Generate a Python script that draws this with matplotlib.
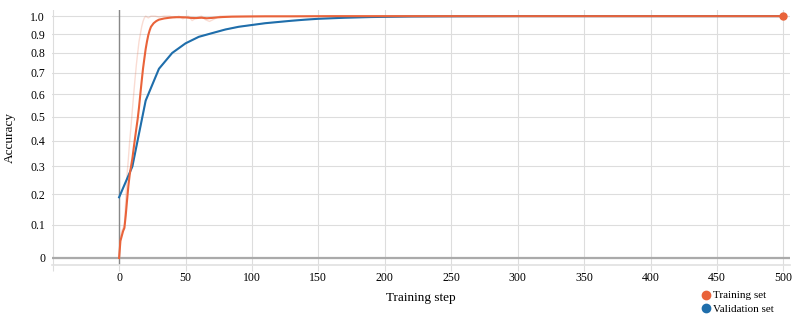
import numpy as np
import matplotlib
matplotlib.use("Agg")
import matplotlib.pyplot as plt
from matplotlib.lines import Line2D

plt.rcParams['font.family'] = ['Liberation Serif', 'DejaVu Serif']

# ---- data ----
train_steps = [0, 1, 2, 3, 4, 5, 6, 7, 8, 9, 10, 11, 12, 13, 14, 15, 16, 17, 18, 19,
               20, 21, 22, 23, 24, 26, 28, 30, 34, 38, 42, 46, 50, 54, 58, 62, 66, 70,
               74, 78, 85, 95, 110, 130, 160, 200, 250, 300, 350, 400, 450, 500]
train_smooth = [0.0, 0.05, 0.065, 0.08, 0.09, 0.13, 0.18, 0.23, 0.27, 0.30, 0.33, 0.37,
                0.41, 0.45, 0.49, 0.54, 0.60, 0.66, 0.72, 0.77, 0.82, 0.86, 0.895, 0.92,
                0.94, 0.96, 0.972, 0.98, 0.987, 0.991, 0.994, 0.994, 0.993, 0.99, 0.989,
                0.991, 0.988, 0.99, 0.993, 0.995, 0.997, 0.998, 0.999, 0.999, 1.0, 1.0,
                1.0, 1.0, 1.0, 1.0, 1.0, 1.0]

raw_steps = [0, 1, 2, 3, 4, 5, 6, 7, 8, 9, 10, 11, 12, 13, 14, 15, 16, 17, 18, 19, 20,
             22, 24, 27, 30, 34, 38, 42, 45, 48, 52, 55, 58, 62, 65, 68, 72, 76, 80,
             90, 100, 120, 150, 200, 250, 300, 350, 400, 450, 500]
train_raw = [0.0, 0.06, 0.08, 0.09, 0.10, 0.18, 0.27, 0.33, 0.40, 0.46, 0.53, 0.60,
             0.67, 0.74, 0.80, 0.86, 0.90, 0.94, 0.97, 0.99, 1.0, 0.99, 1.0, 1.0, 0.995,
             1.0, 1.0, 0.99, 1.0, 0.985, 1.0, 0.975, 0.99, 1.0, 0.98, 0.97, 0.985, 1.0,
             1.0, 1.0, 1.0, 1.0, 1.0, 1.0, 1.0, 1.0, 1.0, 1.0, 1.0, 1.0]

val_steps = [0, 10, 20, 30, 40, 50, 60, 70, 80, 90, 100, 110, 120, 130, 140, 150, 160,
             170, 180, 190, 200, 220, 250, 300, 350, 400, 450, 500]
val_acc = [0.19, 0.30, 0.57, 0.72, 0.80, 0.85, 0.885, 0.905, 0.925, 0.94, 0.95, 0.96,
           0.967, 0.974, 0.98, 0.985, 0.988, 0.991, 0.993, 0.995, 0.996, 0.998, 0.999,
           1.0, 1.0, 1.0, 1.0, 1.0]

x_ticks = [0, 50, 100, 150, 200, 250, 300, 350, 400, 450, 500]
y_ticks = [0, 0.1, 0.2, 0.3, 0.4, 0.5, 0.6, 0.7, 0.8, 0.9, 1.0]
y_labels = ['0', '0.1', '0.2', '0.3', '0.4', '0.5', '0.6', '0.7', '0.8', '0.9', '1.0']

ORANGE = '#e9633a'
BLUE = '#1f6eab'

fig = plt.figure(figsize=(8, 3.26), dpi=100)
ax = fig.add_axes([0.065, 0.187, 0.9225, 0.782])

ax.set_yscale('function', functions=(lambda y: np.log2(1 + np.asarray(y)),
                                     lambda v: np.power(2.0, np.asarray(v)) - 1))
ax.set_xlim(-50.5, 505)
ax.set_ylim(-0.02, 1.035)

ax.set_xticks([-50] + x_ticks)
ax.set_xticklabels([''] + [str(t) for t in x_ticks])
ax.set_yticks(y_ticks)
ax.set_yticklabels(y_labels)
ax.grid(True, color='#dddddd', linewidth=0.8)
ax.set_axisbelow(True)
for s in ax.spines.values():
    s.set_visible(False)
ax.spines['bottom'].set_visible(True)
ax.spines['bottom'].set_color('#e0e0e0')
ax.spines['bottom'].set_linewidth(1.2)
ax.tick_params(axis='x', length=4, color='#dddddd', labelsize=8.5, pad=1)
ax.tick_params(axis='y', length=0, labelsize=8.5, pad=5)

ax.axvline(0, color='#888888', linewidth=1.0, zorder=1)
ax.axhline(0, color='#aaaaaa', linewidth=1.6, zorder=1)

ax.plot(raw_steps, train_raw, color=ORANGE, alpha=0.22, linewidth=1.0, zorder=2)
ax.plot(val_steps, val_acc, color=BLUE, alpha=0.15, linewidth=1.0, zorder=2)
ax.plot(train_steps, train_smooth, color=ORANGE, linewidth=1.5, zorder=4)
ax.plot(val_steps, val_acc, color=BLUE, linewidth=1.5, zorder=3)
ax.plot([train_steps[-1]], [train_smooth[-1]], 'o', color=ORANGE, markersize=5, zorder=5)

ax.set_xlabel('Training step', fontsize=9.5)
ax.xaxis.set_label_coords(0.5, -0.105)
ax.set_ylabel('Accuracy', fontsize=9.5)
ax.yaxis.set_label_coords(-0.049, 0.5)

handles = [Line2D([], [], marker='o', linestyle='', color=ORANGE, markersize=6),
           Line2D([], [], marker='o', linestyle='', color=BLUE, markersize=6)]
fig.legend(handles, ['Training set', 'Validation set'], loc='upper left',
           bbox_to_anchor=(0.868, 0.122), frameon=False, fontsize=8,
           handletextpad=0.1, labelspacing=0.35, borderaxespad=0, handlelength=1.2)

fig.savefig('out.png', dpi=100)
